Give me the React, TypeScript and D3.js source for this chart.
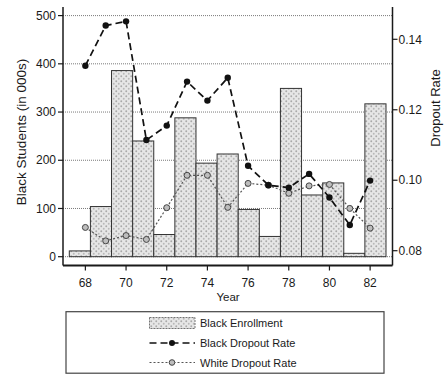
import React from "react"
import * as d3 from "d3"

const years = [68, 69, 70, 71, 72, 73, 74, 75, 76, 77, 78, 79, 80, 81, 82]
const blackEnrollment = [12, 104, 386, 240, 46, 288, 194, 213, 98, 42, 349, 128, 153, 7, 317]
const blackDropout = [0.1325, 0.1439, 0.1451, 0.1114, 0.1155, 0.128, 0.1226, 0.1291, 0.1041, 0.0986, 0.0979, 0.1018, 0.0951, 0.0873, 0.0999]
const whiteDropout = [0.0866, 0.0828, 0.0843, 0.0832, 0.0922, 0.1014, 0.1014, 0.0923, 0.0991, 0.0986, 0.0963, 0.0984, 0.0988, 0.092, 0.0864]
const leftTicks = [0, 100, 200, 300, 400, 500]
const rightTicks = [0.08, 0.1, 0.12, 0.14]
const xTicks = [68, 70, 72, 74, 76, 78, 80, 82]

const font = "Arial, 'Liberation Sans', Helvetica, sans-serif"
const ink = "#1a1a1a"

export default function App() {
  const left = 63
  const right = 392.5
  const top = 7
  const bottom = 265.5

  const x = d3.scaleLinear().domain([66.9, 83.1]).range([left, right])
  const xBar = d3.scaleBand<number>().domain(years).range([69.3, 386]).padding(0)
  const yLeft = d3.scaleLinear().domain([0, 500]).range([256.7, 15.6])
  const yRight = d3.scaleLinear().domain([0.08, 0.14]).range([250.7, 39.3])

  const line = d3.line<number>()
    .x((d, i) => x(years[i]))
    .y(d => yRight(d))

  return (
    <div style={{ position: "absolute", left: 0, top: 0 }}>
      <svg width={444} height={374} style={{ display: "block", background: "#fff" }} fontFamily={font}>
        <defs>
          <pattern id="dots" patternUnits="userSpaceOnUse" width={5} height={5}>
            <rect width={5} height={5} fill="#e6e6e6" />
            <circle cx={1.25} cy={1.25} r={0.95} fill="#a9a9a9" />
            <circle cx={3.75} cy={3.75} r={0.95} fill="#b8b8b8" />
          </pattern>
        </defs>

        {/* grid */}
        {leftTicks.map(t => (
          <line key={"g" + t} x1={left} x2={right} y1={yLeft(t)} y2={yLeft(t)}
            stroke="#7a7a7a" strokeWidth={1} strokeDasharray="1,1" />
        ))}

        {/* bars */}
        {years.map((yr, i) => (
          <rect key={"b" + yr} x={xBar(yr)} y={yLeft(blackEnrollment[i])}
            width={xBar.bandwidth()} height={yLeft(0) - yLeft(blackEnrollment[i])}
            fill="url(#dots)" stroke="#333" strokeWidth={1} />
        ))}

        {/* white dropout */}
        <path d={line(whiteDropout) || ""} fill="none" stroke="#555" strokeWidth={1.2} strokeDasharray="2,2" />
        {whiteDropout.map((v, i) => (
          <circle key={"w" + i} cx={x(years[i])} cy={yRight(v)} r={3} fill="#bdbdbd" stroke="#444" strokeWidth={1} />
        ))}

        {/* black dropout */}
        <path d={line(blackDropout) || ""} fill="none" stroke="#111" strokeWidth={1.7} strokeDasharray="7,4" />
        {blackDropout.map((v, i) => (
          <circle key={"k" + i} cx={x(years[i])} cy={yRight(v)} r={3.2} fill="#111" />
        ))}

        {/* axes */}
        <line x1={left} x2={left} y1={top} y2={bottom} stroke={ink} strokeWidth={1.5} />
        <line x1={right} x2={right} y1={top} y2={bottom} stroke={ink} strokeWidth={1.5} />
        <line x1={left} x2={right} y1={bottom} y2={bottom} stroke={ink} strokeWidth={1.8} />

        {leftTicks.map(t => (
          <g key={"l" + t}>
            <line x1={left - 5} x2={left} y1={yLeft(t)} y2={yLeft(t)} stroke={ink} strokeWidth={1.2} />
            <text x={left - 7} y={yLeft(t)} dy="0.35em" textAnchor="end" fontSize={12} fill={ink}>{t}</text>
          </g>
        ))}
        {rightTicks.map(t => (
          <g key={"r" + t}>
            <line x1={right} x2={right + 5} y1={yRight(t)} y2={yRight(t)} stroke={ink} strokeWidth={1.2} />
            <text x={right + 6} y={yRight(t)} dy="0.35em" textAnchor="start" fontSize={12} fill={ink}>{t.toFixed(2)}</text>
          </g>
        ))}
        {xTicks.map(t => (
          <g key={"x" + t}>
            <line x1={x(t)} x2={x(t)} y1={bottom} y2={bottom + 5} stroke={ink} strokeWidth={1.2} />
            <text x={x(t)} y={287} textAnchor="middle" fontSize={12} fill={ink}>{t}</text>
          </g>
        ))}

        <text x={228} y={300.5} textAnchor="middle" fontSize={11.5} fill={ink}>Year</text>
        <text transform="translate(26,132) rotate(-90)" textAnchor="middle" fontSize={13.5} fill={ink}>Black Students (in 000s)</text>
        <text transform="translate(440,108) rotate(-90)" textAnchor="middle" fontSize={13} fill={ink}>Dropout Rate</text>

        {/* legend */}
        <rect x={66} y={311.7} width={318} height={61.5} fill="none" stroke="#444" strokeWidth={1.2} />
        <rect x={149.5} y={317.5} width={45.5} height={11} fill="url(#dots)" stroke="#555" strokeWidth={0.8} strokeDasharray="2,1" />
        <text x={200} y={327} fontSize={11} fill={ink}>Black Enrollment</text>

        <line x1={149.5} x2={195} y1={343} y2={343} stroke="#111" strokeWidth={1.7} strokeDasharray="7,4" />
        <circle cx={172} cy={343} r={3} fill="#111" />
        <text x={200} y={347} fontSize={11} fill={ink}>Black Dropout Rate</text>

        <line x1={149.5} x2={195} y1={362.5} y2={362.5} stroke="#555" strokeWidth={1.2} strokeDasharray="2,2" />
        <circle cx={172} cy={362.5} r={2.8} fill="#bdbdbd" stroke="#444" strokeWidth={1} />
        <text x={200} y={366.5} fontSize={11} fill={ink}>White Dropout Rate</text>
      </svg>
    </div>
  )
}
